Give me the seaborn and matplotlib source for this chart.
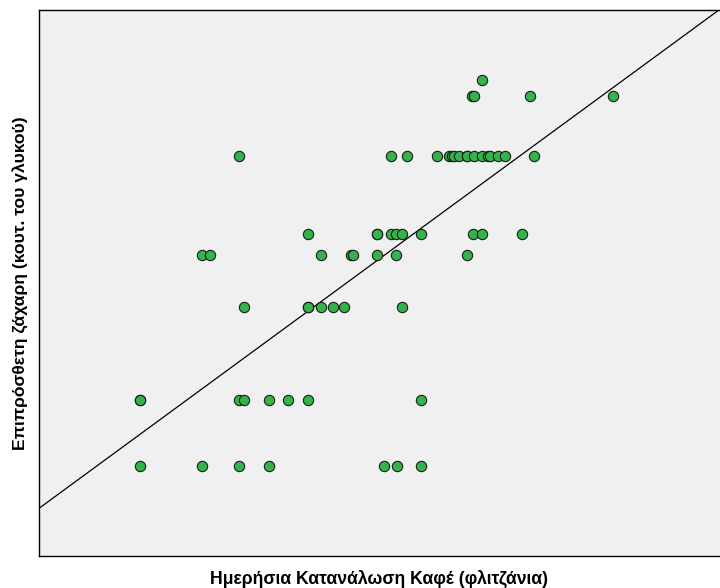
import numpy as np
import pandas as pd
import matplotlib
matplotlib.use("Agg")
import matplotlib.pyplot as plt
import seaborn as sns

# Daily coffee consumption (cups) and added sugar (teaspoons), grouped by sugar level
sugar_levels = [1.65, 2.86, 4.56, 5.51, 5.90, 7.33, 8.42, 8.72]
coffee_by_level = [
    [1.48, 2.39, 2.94, 3.38, 5.07, 5.26, 5.61],
    [1.48, 1.48, 2.94, 3.01, 3.38, 3.66, 3.95, 5.61],
    [3.01, 3.95, 3.95, 4.14, 4.32, 4.48, 5.33],
    [2.39, 2.51, 4.14, 4.58, 4.61, 4.96, 5.24, 6.28],
    [3.95, 4.96, 4.96, 5.17, 5.24, 5.33, 5.61, 6.37, 6.51, 7.09],
    [2.94, 5.17, 5.40, 5.84, 6.02, 6.06, 6.09, 6.17, 6.28, 6.28,
     6.39, 6.51, 6.59, 6.62, 6.74, 6.84, 7.27],
    [6.36, 6.39, 7.21, 8.43],
    [6.51],
]

x_label = "Ημερήσια Κατανάλωση Καφέ (φλιτζάνια)"
y_label = "Επιπρόσθετη ζάχαρη (κουτ. του γλυκού)"

coffee = [c for row in coffee_by_level for c in row]
sugar = [s for s, row in zip(sugar_levels, coffee_by_level) for _ in row]
df = pd.DataFrame({"coffee": coffee, "sugar": sugar})

sns.set_style("white")
plt.rcParams["font.family"] = ["Liberation Sans", "DejaVu Sans"]

fig = plt.figure(figsize=(7.2, 5.88), dpi=100)
ax = fig.add_axes([39 / 720, 32 / 588, 681 / 720, 546 / 588])
ax.set_facecolor("#f0f0f0")
ax.set_xlim(0, 10)
ax.set_ylim(0, 10)

# least-squares fit line across the full axis width
sns.regplot(data=df, x="coffee", y="sugar", ax=ax, scatter=False, ci=None,
            truncate=False, line_kws={"color": "black", "linewidth": 0.9})

sns.scatterplot(data=df, x="coffee", y="sugar", ax=ax, s=55,
                color="#33b44a", edgecolor="#1a1a1a", linewidth=0.8, zorder=3)

ax.set_xlim(0, 10)
ax.set_ylim(0, 10)
ax.set_xticks([])
ax.set_yticks([])
for side in ["left", "bottom", "top"]:
    ax.spines[side].set_color("black")
    ax.spines[side].set_linewidth(1.0)
ax.spines["right"].set_visible(False)

ax.set_xlabel(x_label, fontsize=12.7, fontweight="bold", color="black", labelpad=10)
ax.set_ylabel(y_label, fontsize=12.6, fontweight="bold", color="black", labelpad=7)

fig.savefig("out.png", dpi=100)
